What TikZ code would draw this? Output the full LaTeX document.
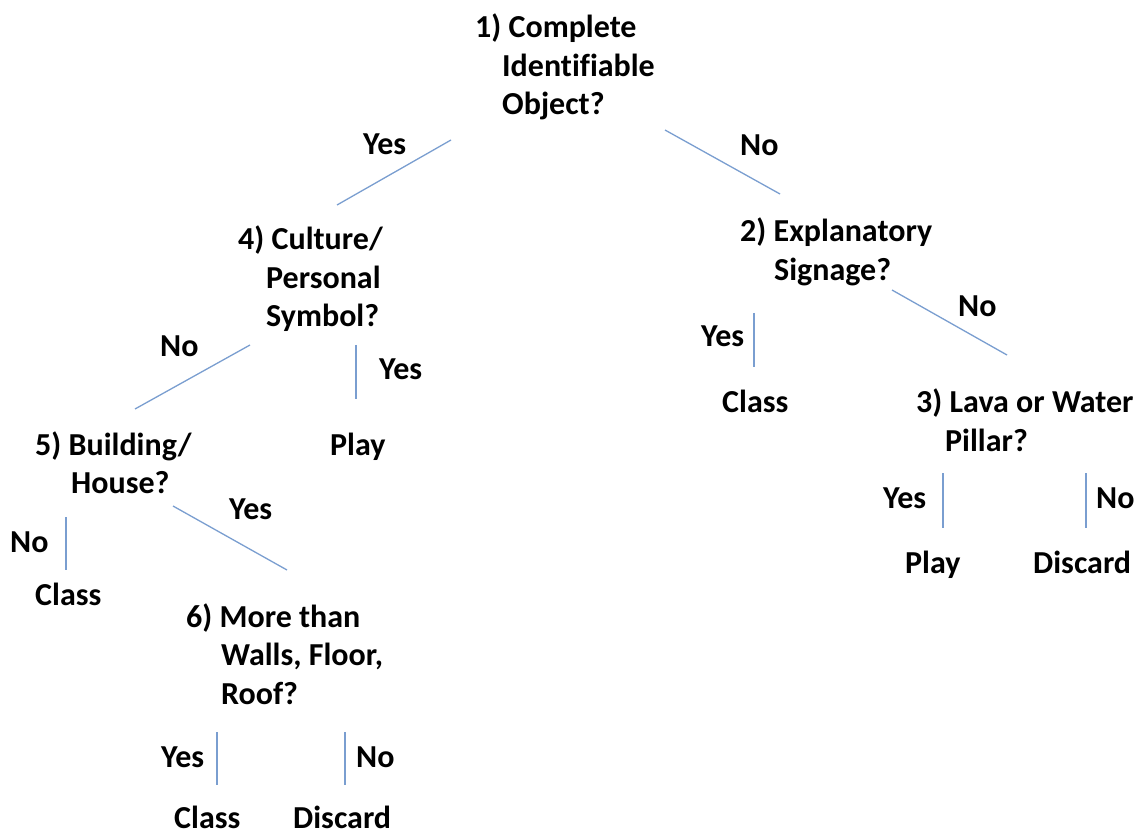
\documentclass[tikz,border=0pt]{standalone}
\usepackage{fontspec}
\setmainfont{Carlito}[Ligatures=NoCommon]
\definecolor{linkblue}{RGB}{122,158,208}
% a question: first row carries the number, later rows hang under the words
\newcommand\qbox[1]{\begin{tabular}[t]{@{}l@{}}#1\end{tabular}}
\newcommand\hang[1]{\hspace*{#1pt}}
\begin{document}
\begin{tikzpicture}[x=1pt,y=-1pt,
  txt/.style={anchor=base west, inner sep=0pt, text=black,
    font=\fontsize{32}{38.5}\selectfont\bfseries},
  edge/.style={draw=linkblue, line width=1.3pt}]
\useasboundingbox (0,0) rectangle (1141,834);

% questions
\node[txt] (q1) at (475,38)  {\qbox{1) Complete\\\hang{27}Identifiable\\\hang{27}Object?}};
\node[txt] (q2) at (740,242) {\qbox{2) Explanatory\\\hang{34}Signage?}};
\node[txt] (q3) at (916,413) {\qbox{3) Lava or Water\\\hang{29}Pillar?}};
\node[txt] (q4) at (238,250) {\qbox{4) Culture/\\\hang{28}Personal\\\hang{28}Symbol?}};
\node[txt] (q5) at (35,455)  {\qbox{5) Building/\\\hang{36}House?}};
\node[txt] (q6) at (186,627) {\qbox{6) More than\\\hang{35}Walls, Floor,\\\hang{35}Roof?}};

% outcomes
\node[txt] (c2) at (722,413) {Class};
\node[txt] (p3) at (905,573) {Play};
\node[txt] (d3) at (1033,573) {Discard};
\node[txt] (p4) at (330,455) {Play};
\node[txt] (c5) at (35,605)  {Class};
\node[txt] (c6) at (174,828) {Class};
\node[txt] (d6) at (293,828) {Discard};

% branch labels
\node[txt] (l1y) at (363,155) {Yes};
\node[txt] (l1n) at (740,156) {No};
\node[txt] (l2y) at (701,347) {Yes};
\node[txt] (l2n) at (958,317) {No};
\node[txt] (l3y) at (883,508) {Yes};
\node[txt] (l3n) at (1096,508) {No};
\node[txt] (l4n) at (160,357) {No};
\node[txt] (l4y) at (379,380) {Yes};
\node[txt] (l5y) at (229,519) {Yes};
\node[txt] (l5n) at (10,552)  {No};
\node[txt] (l6y) at (161,767) {Yes};
\node[txt] (l6n) at (356,767) {No};

% branch ends
\coordinate (e1ya) at (451,140);  \coordinate (e1yb) at (337,205);
\coordinate (e1na) at (665,130);  \coordinate (e1nb) at (780,194);
\coordinate (e2ya) at (754,313);  \coordinate (e2yb) at (754,367);
\coordinate (e2na) at (892,290);  \coordinate (e2nb) at (1007,355);
\coordinate (e3ya) at (943,473);  \coordinate (e3yb) at (943,528);
\coordinate (e3na) at (1086,473); \coordinate (e3nb) at (1086,528);
\coordinate (e4na) at (250,345);  \coordinate (e4nb) at (135,409);
\coordinate (e4ya) at (356,345);  \coordinate (e4yb) at (356,399);
\coordinate (e5na) at (66,517);   \coordinate (e5nb) at (66,570);
\coordinate (e5ya) at (173,506);  \coordinate (e5yb) at (287,570);
\coordinate (e6ya) at (217,732);  \coordinate (e6yb) at (217,785);
\coordinate (e6na) at (345,732);  \coordinate (e6nb) at (345,785);

\foreach \e in {e1y,e1n,e2y,e2n,e3y,e3n,e4n,e4y,e5n,e5y,e6y,e6n}
  \draw[edge] (\e a) -- (\e b);
\end{tikzpicture}
\end{document}
